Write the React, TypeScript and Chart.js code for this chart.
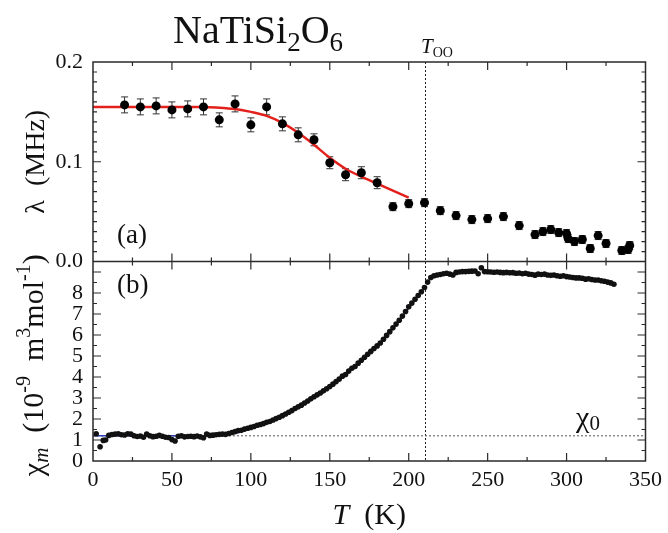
import React, { useEffect, useRef } from 'react';
import { Chart, registerables } from 'chart.js';

Chart.register(...registerables);

const FONT = '"Liberation Serif"';
const INK = '#111111';

// ---- Panel (a): muon relaxation rate lambda (MHz) vs T (K) ----
const lambdaT = [20, 30, 40, 50, 60, 70, 80, 90, 100, 110, 120, 130, 140, 150, 160, 170, 180, 190, 200, 210, 220, 230, 240, 250, 260, 270, 280, 285, 290, 295, 300, 301, 305, 310, 315, 320, 325, 335, 339, 340];
const lambdaV = [0.157, 0.155, 0.156, 0.152, 0.153, 0.155, 0.142, 0.158, 0.137, 0.155, 0.138, 0.127, 0.122, 0.099, 0.087, 0.089, 0.079, 0.055, 0.058, 0.059, 0.051, 0.046, 0.042, 0.043, 0.045, 0.036, 0.027, 0.030, 0.032, 0.029, 0.028, 0.023, 0.020, 0.022, 0.013, 0.026, 0.018, 0.011, 0.012, 0.016];
const lambdaErr = [0.008, 0.008, 0.008, 0.008, 0.008, 0.008, 0.007, 0.008, 0.007, 0.008, 0.007, 0.007, 0.006, 0.006, 0.006, 0.006, 0.006, 0.004, 0.004, 0.004, 0.004, 0.004, 0.004, 0.004, 0.004, 0.004, 0.004, 0.004, 0.004, 0.004, 0.004, 0.004, 0.004, 0.004, 0.004, 0.004, 0.004, 0.004, 0.004, 0.004];

// red fit curve in panel (a)
const fitLambdaT = [0, 20, 40, 60, 70, 80, 90, 100, 110, 120, 130, 140, 150, 160, 170, 180, 190, 200];
const fitLambdaV = [0.155, 0.155, 0.155, 0.155, 0.1548, 0.1542, 0.1528, 0.150, 0.146, 0.139, 0.129, 0.117, 0.104, 0.093, 0.085, 0.078, 0.071, 0.064];

// ---- Panel (b): susceptibility chi_m (1e-9 m^3/mol) vs T (K) ----
const chiT = [2, 4.5, 6.5, 8, 10, 12, 14, 16, 18, 20, 22, 24, 26, 28, 30, 32, 34, 36, 38, 40, 42, 44, 46, 48, 50, 52, 54, 56, 58, 60, 62, 64, 66, 68, 70, 72, 74, 76, 78, 80, 82, 84, 86, 88, 90, 92, 94, 96, 98, 100, 102, 104, 106, 108, 110, 112, 114, 116, 118, 120, 122, 124, 126, 128, 130, 132, 134, 136, 138, 140, 142, 144, 146, 148, 150, 152, 154, 156, 158, 160, 162, 164, 166, 168, 170, 172, 174, 176, 178, 180, 182, 184, 186, 188, 190, 192, 194, 196, 198, 200, 202, 204, 206, 208, 210, 212, 214, 216, 218, 220, 222, 224, 226, 228, 230, 232, 234, 236, 238, 240, 242, 244, 246, 248, 250, 252, 254, 256, 258, 260, 262, 264, 266, 268, 270, 272, 274, 276, 278, 280, 282, 284, 286, 288, 290, 292, 294, 296, 298, 300, 302, 304, 306, 308, 310, 312, 314, 316, 318, 320, 322, 324, 326, 328, 330];
const chiV = [1.30, 0.68, 0.98, 1.00, 1.22, 1.26, 1.28, 1.30, 1.25, 1.24, 1.30, 1.28, 1.20, 1.17, 1.19, 1.13, 1.28, 1.20, 1.16, 1.18, 1.22, 1.18, 1.13, 1.12, 1.02, 0.95, 1.18, 1.20, 1.15, 1.17, 1.18, 1.16, 1.19, 1.15, 1.11, 1.28, 1.22, 1.23, 1.25, 1.27, 1.28, 1.27, 1.31, 1.36, 1.40, 1.45, 1.46, 1.52, 1.56, 1.60, 1.64, 1.70, 1.74, 1.78, 1.84, 1.88, 1.95, 2.02, 2.08, 2.16, 2.24, 2.32, 2.40, 2.50, 2.58, 2.66, 2.76, 2.86, 2.96, 3.06, 3.15, 3.24, 3.34, 3.44, 3.55, 3.66, 3.78, 3.90, 4.04, 4.12, 4.28, 4.42, 4.50, 4.66, 4.80, 4.94, 5.08, 5.22, 5.36, 5.48, 5.62, 5.80, 5.98, 6.16, 6.34, 6.52, 6.70, 6.90, 7.12, 7.34, 7.52, 7.70, 7.88, 8.06, 8.26, 8.52, 8.74, 8.82, 8.86, 8.88, 8.92, 8.94, 8.90, 8.86, 8.98, 9.00, 9.02, 9.02, 9.03, 9.04, 9.05, 8.92, 9.20, 9.02, 9.01, 9.00, 8.99, 9.00, 8.98, 8.97, 8.98, 8.96, 8.97, 8.94, 8.95, 8.92, 8.94, 8.90, 8.88, 8.85, 8.90, 8.88, 8.90, 8.86, 8.84, 8.86, 8.82, 8.80, 8.82, 8.78, 8.76, 8.74, 8.72, 8.72, 8.70, 8.66, 8.68, 8.64, 8.62, 8.62, 8.58, 8.56, 8.52, 8.48, 8.42];

// blue fit curve in panel (b)
const fitChiT = [0, 20, 40, 60, 80, 90, 100, 110, 120, 130, 140, 150, 160, 170, 180, 190, 200, 205];
const fitChiV = [1.2, 1.2, 1.2, 1.2, 1.22, 1.32, 1.55, 1.82, 2.15, 2.57, 3.05, 3.55, 4.15, 4.80, 5.50, 6.33, 7.30, 7.80];

const chi0 = 1.2;
const T_OO = 210;
const xRange = [0, 350];
const lambdaRange = [0, 0.2];
const chiRange = [0, 9.5];

type Part = { t: string; size: number; italic?: boolean; dy?: number };

function fontOf(p: Part) {
  return `${p.italic ? 'italic ' : ''}${p.size}px ${FONT}`;
}

function drawRich(ctx: CanvasRenderingContext2D, parts: Part[], x: number, y: number, align: 'left' | 'center') {
  const widths = parts.map((p) => {
    ctx.font = fontOf(p);
    return ctx.measureText(p.t).width;
  });
  const total = widths.reduce((a, b) => a + b, 0);
  let cx = align === 'center' ? x - total / 2 : x;
  ctx.textAlign = 'left';
  ctx.textBaseline = 'alphabetic';
  parts.forEach((p, i) => {
    ctx.font = fontOf(p);
    ctx.fillText(p.t, cx, y + (p.dy || 0));
    cx += widths[i];
  });
}

const decorPlugin = {
  id: 'decor',
  beforeDatasetsDraw(chart: any) {
    const ctx: CanvasRenderingContext2D = chart.ctx;
    const xs = chart.scales.x;
    const yT = chart.scales.y;
    const yB = chart.scales.y2;
    ctx.save();
    const px = Math.round(xs.getPixelForValue(T_OO)) + 0.5;
    ctx.strokeStyle = '#222';
    ctx.lineWidth = 1;
    ctx.setLineDash([2, 2]);
    ctx.beginPath();
    ctx.moveTo(px, yT.top);
    ctx.lineTo(px, yB.bottom);
    ctx.stroke();
    ctx.setLineDash([]);
    ctx.strokeStyle = '#333';
    ctx.lineWidth = 1;
    ctx.beginPath();
    lambdaT.forEach((t, i) => {
      const x = xs.getPixelForValue(t);
      const y1 = yT.getPixelForValue(lambdaV[i] - lambdaErr[i]);
      const y2 = yT.getPixelForValue(lambdaV[i] + lambdaErr[i]);
      ctx.moveTo(x, y1);
      ctx.lineTo(x, y2);
      ctx.moveTo(x - 3.5, y1);
      ctx.lineTo(x + 3.5, y1);
      ctx.moveTo(x - 3.5, y2);
      ctx.lineTo(x + 3.5, y2);
    });
    ctx.stroke();
    ctx.restore();
  },
  afterDraw(chart: any) {
    const ctx: CanvasRenderingContext2D = chart.ctx;
    const xs = chart.scales.x;
    const yT = chart.scales.y;
    const yB = chart.scales.y2;
    const L = chart.chartArea.left;
    const R = chart.chartArea.right;
    ctx.save();
    ctx.strokeStyle = '#2a2a2a';
    ctx.lineWidth = 1.5;
    ctx.strokeRect(L, yT.top, R - L, yB.bottom - yT.top);
    ctx.beginPath();
    ctx.moveTo(L, yT.bottom);
    ctx.lineTo(R, yT.bottom);
    ctx.stroke();
    ctx.lineWidth = 1.2;
    ctx.beginPath();
    const seg = (x1: number, y1: number, x2: number, y2: number) => {
      ctx.moveTo(x1, y1);
      ctx.lineTo(x2, y2);
    };
    for (let k = 1; k < 14; k++) {
      const x = xs.getPixelForValue(k * 25);
      const len = k % 2 === 0 ? 8 : 4;
      seg(x, yT.top, x, yT.top + len);
      seg(x, yT.bottom, x, yT.bottom - len);
      seg(x, yB.top, x, yB.top + len);
      seg(x, yB.bottom, x, yB.bottom - len);
    }
    for (let k = 1; k < 20; k++) {
      const y = yT.getPixelForValue(k / 100);
      const len = k % 10 === 0 ? 8 : 4;
      seg(L, y, L + len, y);
      seg(R, y, R - len, y);
    }
    for (let k = 1; k < 19; k++) {
      const y = yB.getPixelForValue(k / 2);
      const len = k % 2 === 0 ? 8 : 4;
      seg(L, y, L + len, y);
      seg(R, y, R - len, y);
    }
    ctx.stroke();

    ctx.fillStyle = INK;
    drawRich(ctx, [
      { t: 'NaTiSi', size: 40 },
      { t: '2', size: 27, dy: 8 },
      { t: 'O', size: 40 },
      { t: '6', size: 27, dy: 8 },
    ], 173, 43, 'left');
    drawRich(ctx, [
      { t: 'T', size: 21, italic: true },
      { t: 'OO', size: 14, dy: 4 },
    ], 421, 53, 'left');
    drawRich(ctx, [{ t: '(a)', size: 27 }], 117, 243, 'left');
    drawRich(ctx, [{ t: '(b)', size: 27 }], 117, 293, 'left');
    drawRich(ctx, [
      { t: 'χ', size: 30 },
      { t: '0', size: 21, dy: 3 },
    ], 588, 427, 'center');
    drawRich(ctx, [
      { t: 'T', size: 30, italic: true },
      { t: '  (K)', size: 30 },
    ], (L + R) / 2, 524, 'center');
    ctx.save();
    ctx.translate(44, (yT.top + yT.bottom) / 2);
    ctx.rotate(-Math.PI / 2);
    drawRich(ctx, [
      { t: 'λ', size: 28 },
      { t: '  (MHz)', size: 28 },
    ], 0, 0, 'center');
    ctx.restore();
    ctx.save();
    ctx.translate(43, (yB.top + yB.bottom) / 2 + 4);
    ctx.rotate(-Math.PI / 2);
    drawRich(ctx, [
      { t: 'χ', size: 30 },
      { t: 'm', size: 21, italic: true, dy: 5 },
      { t: '  (10', size: 30 },
      { t: '-9', size: 20, dy: -13 },
      { t: '  m', size: 30 },
      { t: '3', size: 20, dy: -13 },
      { t: 'mol', size: 30 },
      { t: '-1', size: 20, dy: -13 },
      { t: ')', size: 30 },
    ], 0, 0, 'center');
    ctx.restore();
    ctx.restore();
  },
};

export default function App() {
  const ref = useRef<HTMLCanvasElement>(null);
  useEffect(() => {
    const canvas = ref.current;
    if (!canvas) return;
    const xy = (xs: number[], ys: number[]) => xs.map((x, i) => ({ x, y: ys[i] }));
    const tickFont = { family: FONT, size: 22 };
    const chart = new Chart(canvas, {
      type: 'scatter',
      data: {
        datasets: [
          { label: 'lambda', data: xy(lambdaT, lambdaV), yAxisID: 'y', pointRadius: 4.5, pointBackgroundColor: '#000', pointBorderWidth: 0, order: 0 },
          { label: 'lambda fit', data: xy(fitLambdaT, fitLambdaV), yAxisID: 'y', showLine: true, pointRadius: 0, borderColor: '#e3211c', borderWidth: 2.5, cubicInterpolationMode: 'monotone', order: 2 },
          { label: 'chi', data: xy(chiT, chiV), yAxisID: 'y2', pointRadius: 2.8, pointBackgroundColor: '#111', pointBorderWidth: 0, order: 0 },
          { label: 'chi fit', data: xy(fitChiT, fitChiV), yAxisID: 'y2', showLine: true, pointRadius: 0, borderColor: '#2b3bb5', borderWidth: 1.5, cubicInterpolationMode: 'monotone', order: 2 },
          { label: 'chi0', data: [{ x: xRange[0], y: chi0 }, { x: xRange[1], y: chi0 }], yAxisID: 'y2', showLine: true, pointRadius: 0, borderColor: '#555', borderWidth: 1, borderDash: [2, 2], order: 3 },
        ],
      } as any,
      options: {
        responsive: false,
        animation: false,
        events: [],
        font: { family: FONT },
        layout: { padding: { top: 62, right: 15, left: 0, bottom: 0 } },
        plugins: { legend: { display: false }, tooltip: { enabled: false }, title: { display: false } },
        scales: {
          x: {
            type: 'linear', position: 'bottom', min: xRange[0], max: xRange[1],
            grid: { display: false, drawTicks: false }, border: { display: false },
            ticks: { stepSize: 50, autoSkip: false, maxRotation: 0, padding: 6, color: INK, font: tickFont, callback: (v: any) => String(v) },
            afterFit: (s: any) => { s.height = 72; },
          },
          y2: {
            type: 'linear', position: 'left', stack: 'panels', stackWeight: 1, min: chiRange[0], max: chiRange[1],
            grid: { display: false, drawTicks: false }, border: { display: false },
            ticks: { stepSize: 1, autoSkip: false, padding: 10, color: INK, font: tickFont,
              callback: (v: any) => (Number(v) <= 8 && Number.isInteger(Number(v)) ? String(v) : '') },
            afterFit: (s: any) => { s.width = 93; },
          },
          y: {
            type: 'linear', position: 'left', stack: 'panels', stackWeight: 1, min: lambdaRange[0], max: lambdaRange[1],
            grid: { display: false, drawTicks: false }, border: { display: false },
            ticks: { stepSize: 0.1, autoSkip: false, padding: 10, color: INK, font: tickFont, callback: (v: any) => Number(v).toFixed(1) },
            afterFit: (s: any) => { s.width = 93; },
          },
        },
      } as any,
      plugins: [decorPlugin],
    });
    return () => { chart.destroy(); };
  }, []);

  return (
    <div style={{ position: 'absolute', left: 0, top: 0, width: 668, height: 533, background: '#fff' }}>
      <canvas ref={ref} width={668} height={533} style={{ width: 668, height: 533, display: 'block' }} />
    </div>
  );
}
